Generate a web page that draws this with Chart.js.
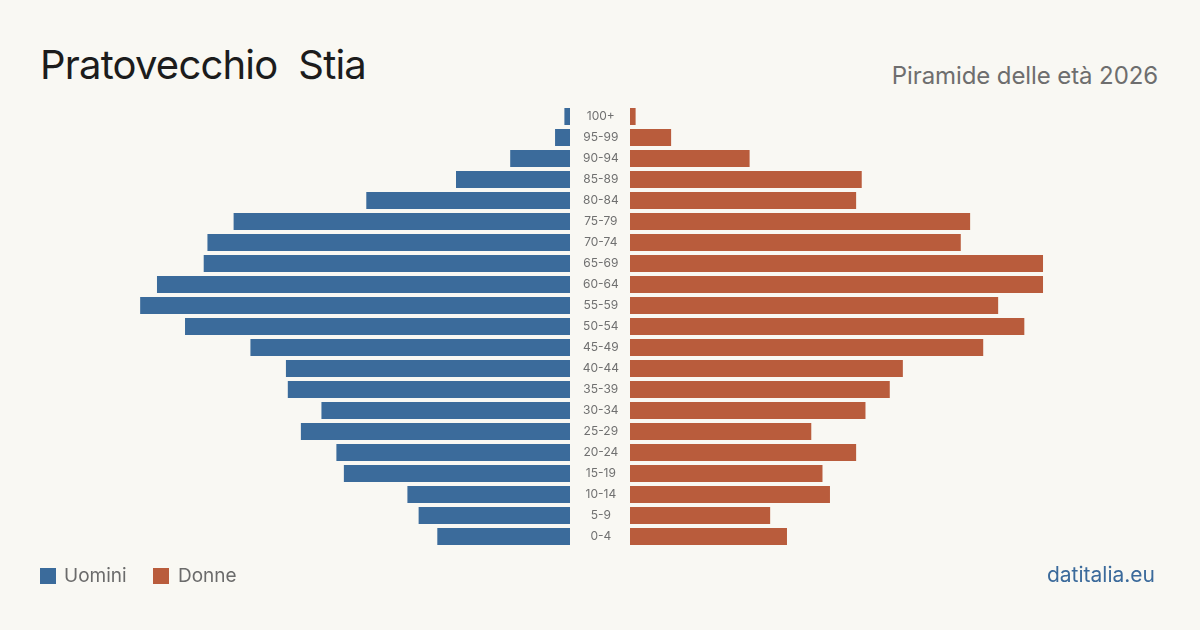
<!DOCTYPE html>
<html lang="it">
<head>
<meta charset="utf-8">
<title>Pratovecchio Stia - Piramide delle età 2026</title>
<script src="https://cdn.jsdelivr.net/npm/chart.js@4/dist/chart.umd.min.js"></script>
<style>
    html, body { margin: 0; padding: 0; }
    body { width: 1200px; height: 630px; background: #f9f8f3; position: relative; overflow: hidden; font-family: Inter, "Noto Sans", sans-serif; }
    #title { position: absolute; left: 40px; top: 45px; font-size: 40px; line-height: 40px; letter-spacing: -0.8px; color: #1c1c1c; white-space: pre; }
    #subtitle { position: absolute; right: 42px; top: 64px; font-size: 24px; line-height: 24px; letter-spacing: -0.1px; color: #6e6e6e; }
    #left-wrap { position: absolute; left: 0; top: 0; }
    #right-wrap { position: absolute; left: 570px; top: 0; }
    .legend { position: absolute; top: 566px; font-size: 19px; line-height: 19px; color: #6b6b6b; }
    .legend .sw { position: absolute; top: 2px; width: 16px; height: 16px; }
    #source { position: absolute; right: 45px; top: 564px; font-size: 21px; line-height: 21px; color: #3b6a9b; }
</style>
</head>
<body>
<div id="title">Pratovecchio  Stia</div>
<div id="subtitle">Piramide delle età 2026</div>
<div id="left-wrap"><canvas id="left-chart" width="570" height="630"></canvas></div>
<div id="right-wrap"><canvas id="right-chart" width="630" height="630"></canvas></div>
<div class="legend" id="legend-m" style="left:40px"><span class="sw" style="left:0;background:#3b6b9b"></span><span style="margin-left:24px">Uomini</span></div>
<div class="legend" id="legend-f" style="left:153px"><span class="sw" style="left:0;background:#b95c3c"></span><span style="margin-left:25px">Donne</span></div>
<div id="source">datitalia.eu</div>
<script>
document.addEventListener("DOMContentLoaded", () => {
    const ageGroups = ["100+", "95-99", "90-94", "85-89", "80-84", "75-79", "70-74", "65-69", "60-64", "55-59",
        "50-54", "45-49", "40-44", "35-39", "30-34", "25-29", "20-24", "15-19", "10-14", "5-9", "0-4"];
    const men = [3, 8, 32, 61, 109, 180, 194, 196, 221, 230, 206, 171, 152, 151, 133, 144, 125, 121, 87, 81, 71];
    const women = [3, 22, 64, 124, 121, 182, 177, 221, 221, 197, 211, 189, 146, 139, 126, 97, 121, 103, 107, 75, 84];

    const blue = "#3b6b9b";
    const orange = "#b95c3c";
    const axisMax = 305;

    const padding = { top: 106, bottom: 83, left: 0, right: 0 };

    // men, bars grow to the left
    new Chart(document.getElementById("left-chart"), {
        type: 'bar',
        data: { labels: ageGroups, datasets: [{ label: 'Uomini', data: men, backgroundColor: blue, barPercentage: 0.81, categoryPercentage: 1 }] },
        options: {
            indexAxis: 'y', responsive: false, animation: false,
            layout: { padding },
            plugins: { legend: { display: false }, tooltip: { enabled: false } },
            scales: {
                x: { display: false, reverse: true, min: 0, max: axisMax },
                y: { display: false }
            }
        }
    });

    // women, with the age labels as the y axis
    new Chart(document.getElementById("right-chart"), {
        type: 'bar',
        data: { labels: ageGroups, datasets: [{ label: 'Donne', data: women, backgroundColor: orange, barPercentage: 0.81, categoryPercentage: 1 }] },
        options: {
            indexAxis: 'y', responsive: false, animation: false,
            layout: { padding },
            plugins: { legend: { display: false }, tooltip: { enabled: false } },
            scales: {
                x: { display: false, min: 0, max: axisMax },
                y: {
                    grid: { display: false },
                    border: { display: false },
                    afterFit: (scale) => { scale.width = 60; },
                    ticks: { crossAlign: 'center', padding: 3, color: '#707070', font: { family: 'Inter', size: 12 } }
                }
            }
        }
    });
});
</script>
</body>
</html>
